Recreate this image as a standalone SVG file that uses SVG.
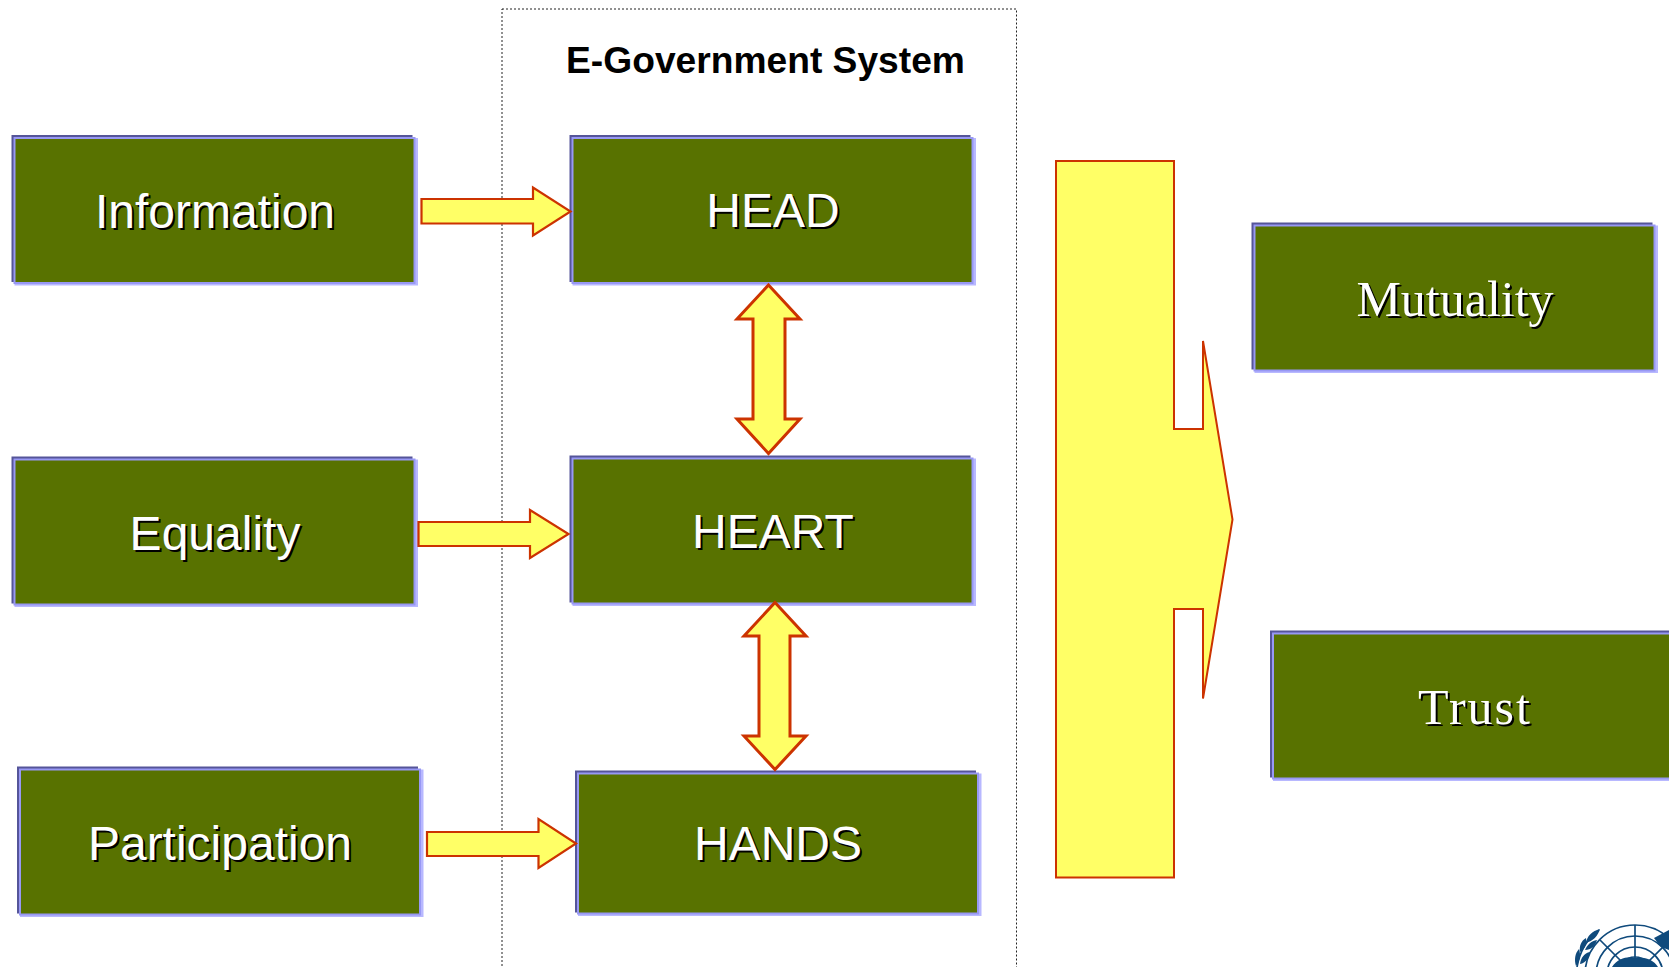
<svg xmlns="http://www.w3.org/2000/svg" width="1669" height="967" viewBox="0 0 1669 967">
<style>
.dark{fill:#555599}
.light{fill:#b8b8ff}
.mid{fill:#587200;stroke:#9898f4;stroke-width:2}
.arrow{fill:#ffff66;stroke:#cc3300;stroke-width:2.2}
.dbl{fill:#ffff66;stroke:#cc3300;stroke-width:3}
.big{fill:#ffff66;stroke:#cc3300;stroke-width:2}
text{text-anchor:middle}
.s{font-family:"Liberation Sans",Arial,sans-serif;font-size:48px}
.f{font-family:"Liberation Serif","Times New Roman",serif;font-size:50px}
.w{fill:#fff}
.b{fill:#000}
.t{font-family:"Liberation Sans",Arial,sans-serif;font-size:37.2px;font-weight:bold;fill:#000}
.frame{fill:none;stroke:#222;stroke-width:1;stroke-dasharray:2 2}
.ln{fill:none;stroke:#0f4a7c;stroke-width:1.7}
.lf{fill:#0f4a7c}
</style>
<defs>
<g id="box">
<rect class="dark" x="0" y="0" width="401" height="147"/>
<rect class="light" x="3" y="3" width="403.5" height="147.5"/>
<rect class="mid" x="3" y="3" width="400" height="145"/>
</g>
</defs>
<g id="frame"><rect class="frame" x="502" y="9" width="514.5" height="1000"/><text class="t" x="765.5" y="73">E-Government System</text></g>
<g id="node-information"><use href="#box" x="11.5" y="135"/><text class="s b" x="217" y="230">Information</text><text class="s w" x="215" y="228">Information</text></g>
<g id="node-equality"><use href="#box" x="11.5" y="456.5"/><text class="s b" x="217" y="552">Equality</text><text class="s w" x="215" y="550">Equality</text></g>
<g id="node-participation"><use href="#box" x="17" y="766.5"/><text class="s b" x="222" y="862">Participation</text><text class="s w" x="220" y="860">Participation</text></g>
<g id="node-head"><use href="#box" x="569.5" y="135"/><text class="s b" x="775" y="229">HEAD</text><text class="s w" x="773" y="227">HEAD</text></g>
<g id="node-heart"><use href="#box" x="569.5" y="455.5"/><text class="s b" x="775" y="550">HEART</text><text class="s w" x="773" y="548">HEART</text></g>
<g id="node-hands"><rect class="dark" x="575" y="770.5" width="401" height="142"/><rect class="light" x="578" y="773.5" width="403.5" height="142.5"/><rect class="mid" x="578" y="773.5" width="400" height="140"/><text class="s b" x="780" y="862">HANDS</text><text class="s w" x="778" y="860">HANDS</text></g>
<g id="node-mutuality"><use href="#box" x="1251.5" y="222.5"/><text class="f b" x="1457" y="318">Mutuality</text><text class="f w" x="1455" y="316">Mutuality</text></g>
<g id="node-trust"><use href="#box" x="1270" y="630.5"/><text class="f b" x="1477" y="726" letter-spacing="2">Trust</text><text class="f w" x="1475" y="724" letter-spacing="2">Trust</text></g>
<g id="connectors">
<polygon class="arrow" points="421.5,199 533,199 533,187.5 570.5,211.5 533,235.5 533,223.5 421.5,223.5"/>
<polygon class="arrow" points="418.5,522 530,522 530,510 568.5,534 530,558 530,546 418.5,546"/>
<polygon class="arrow" points="427,832 538.5,832 538.5,819 576,843.5 538.5,868 538.5,856 427,856"/>
<polygon class="dbl" points="768.5,285 800,319 785,319 785,419 800,419 768.5,453.5 737,419 753,419 753,319 737,319"/>
<polygon class="dbl" points="775,602.5 806,636 790,636 790,736 806,736 775,769.5 744,736 759,736 759,636 744,636"/>
<polygon class="big" points="1056,161 1174,161 1174,429 1203,429 1203,341 1232.5,519.5 1203,698.5 1203,609 1174,609 1174,877.5 1056,877.5"/>
</g>
<g id="logo">
<circle class="ln" cx="1635" cy="975" r="50"/>
<circle class="ln" cx="1635" cy="975" r="39"/>
<circle class="ln" cx="1635" cy="975" r="28"/>
<circle class="ln" cx="1635" cy="975" r="18"/>
<path class="ln" d="M1635 925V960M1600 940L1622 962M1670 940L1648 962"/>
<path class="lf" d="M1612 967C1618 958 1628 956 1635 958C1644 956 1654 960 1658 967Z"/>
<path class="lf" d="M1654 938L1669 930V950L1661 947Z"/>
<path class="ln" d="M1599 930C1588 938 1580 950 1577 967"/>
<path class="lf" d="M1600 929C1592 931 1587 936 1586 943C1593 941 1598 936 1600 929ZM1586 938C1581 941 1579 946 1580 952C1585 949 1587 944 1586 938ZM1579 949C1575 953 1574 960 1576 966C1580 961 1581 955 1579 949ZM1597 940C1591 941 1587 945 1585 950C1591 950 1595 946 1597 940ZM1590 952C1584 953 1581 958 1580 964C1586 963 1589 958 1590 952Z"/>
</g>
</svg>
